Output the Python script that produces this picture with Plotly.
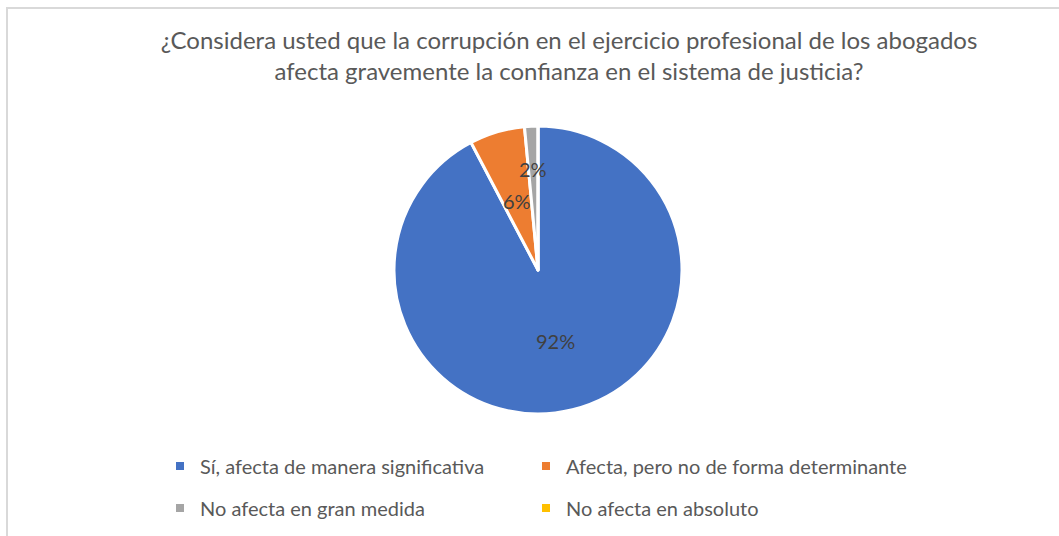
import math
import plotly.graph_objects as go

categories = ["Sí, afecta de manera significativa",
              "Afecta, pero no de forma determinante",
              "No afecta en gran medida",
              "No afecta en absoluto"]
values = [92.3, 6.2, 1.5, 0.0]
colors = ["#4472C4", "#ED7D31", "#A5A5A5", "#FFC000"]
label_radius = [0.51, 0.50, 0.70, 0.5]  # radial position of data labels (fraction of radius)

title_text = ("¿Considera usted que la corrupción en el ejercicio profesional de los abogados"
              "<br>afecta gravemente la confianza en el sistema de justicia?")

W, H = 1059, 536
CX, CY, R = 538, 270, 144  # pie centre / radius in pixels
FONT = "Lato"

fig = go.Figure()
fig.add_trace(go.Pie(
    labels=categories, values=values, sort=False, direction="clockwise", rotation=0,
    marker=dict(colors=colors, line=dict(color="white", width=3)),
    textinfo="none", hoverinfo="label+percent", showlegend=False,
    domain=dict(x=[(CX - R) / W, (CX + R) / W], y=[1 - (CY + R) / H, 1 - (CY - R) / H]),
))

# data labels positioned from the slice angles
total = sum(values)
cum = 0.0
annotations = []
for v, rf in zip(values, label_radius):
    if v > 0:
        mid = (cum + v / 2) / total * 2 * math.pi
        px = CX + rf * R * math.sin(mid)
        py = CY - rf * R * math.cos(mid)
        annotations.append(dict(x=px / W, y=1 - py / H, xref="paper", yref="paper",
                                xanchor="center", yanchor="middle",
                                text=f"{round(v / total * 100)}%", showarrow=False,
                                font=dict(family=FONT, size=20, color="#404040")))
    cum += v

# legend entries: 2 columns x 2 rows, one legend box per entry
legend_names = ["legend", "legend2", "legend3", "legend4"]
legend_pos = [(160, 466), (526, 466), (160, 508), (526, 508)]
layout_legends = {}
for i, (c, col) in enumerate(zip(categories, colors)):
    fig.add_trace(go.Scatter(
        x=[None], y=[None], mode="markers", name=c,
        marker=dict(symbol="square", size=8, color=col),
        legend=legend_names[i], showlegend=True,
    ))
    lx, ly = legend_pos[i]
    layout_legends[legend_names[i]] = dict(
        x=lx / W, y=1 - ly / H, xanchor="left", yanchor="middle",
        orientation="h", bgcolor="rgba(0,0,0,0)", itemwidth=30,
        font=dict(family=FONT, size=20, color="#595959"))

fig.update_layout(
    width=W, height=H,
    margin=dict(l=0, r=0, t=0, b=0),
    paper_bgcolor="white", plot_bgcolor="white",
    title=dict(text=title_text, x=569 / W, xanchor="center", y=1 - 49 / H, yanchor="middle",
               font=dict(family=FONT, size=24, color="#595959")),
    xaxis=dict(visible=False), yaxis=dict(visible=False),
    annotations=annotations,
    shapes=[dict(type="rect", xref="paper", yref="paper",
                 x0=7 / W, x1=1.01, y0=-0.01, y1=1 - 8 / H,
                 line=dict(color="#D9D9D9", width=2))],
    **layout_legends,
)

fig.write_html("out.html", config={"displayModeBar": False},
               post_script="document.body.style.margin='0';document.body.style.overflow='hidden';")
